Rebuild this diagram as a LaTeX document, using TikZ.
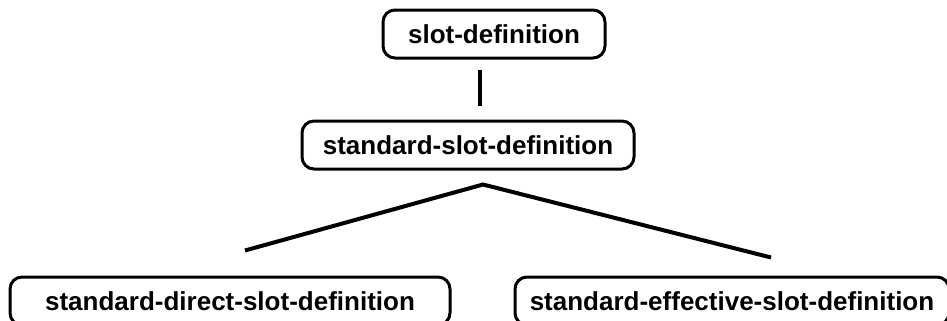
\documentclass[tikz,border=0pt]{standalone}
\usepackage{fontspec}
\setmainfont{Liberation Sans}
\usetikzlibrary{positioning}

\begin{document}
\begin{tikzpicture}[
  classbox/.style={rectangle, rounded corners=6pt, draw=black, line width=1.5pt,
    minimum height=24pt, inner sep=2pt, align=center,
    font=\fontsize{13}{15.6}\selectfont\bfseries},
  link/.style={line width=2pt, draw=black}
]
\useasboundingbox (0,0) rectangle (473.5pt,-160.5pt);

% root class and its one subclass
\node[classbox, minimum width=111pt] (slotdef) at (247pt,-17pt) {slot-definition};
\node[classbox, minimum width=166pt, below=30pt of slotdef, xshift=-13pt] (stdslotdef) {standard-slot-definition};
\draw[link] ([xshift=-7pt, yshift=-5pt]slotdef.south) -- ([xshift=6pt, yshift=7pt]stdslotdef.north);

% the two leaf classes, cut off at the lower edge
\node[classbox, minimum width=220pt, below=52.5pt of stdslotdef, xshift=-119pt] (directdef) {standard-direct-slot-definition};
\node[classbox, minimum width=217pt, right=31pt of directdef] (effectivedef) {standard-effective-slot-definition};

% fork from the middle class
\coordinate (forktop) at ([xshift=7.5pt, yshift=-7pt]stdslotdef.south);
\draw[link] ([xshift=7.5pt, yshift=12.5pt]directdef.north) -- (forktop) -- ([xshift=19.5pt, yshift=9pt]effectivedef.north);

\end{tikzpicture}
\end{document}
